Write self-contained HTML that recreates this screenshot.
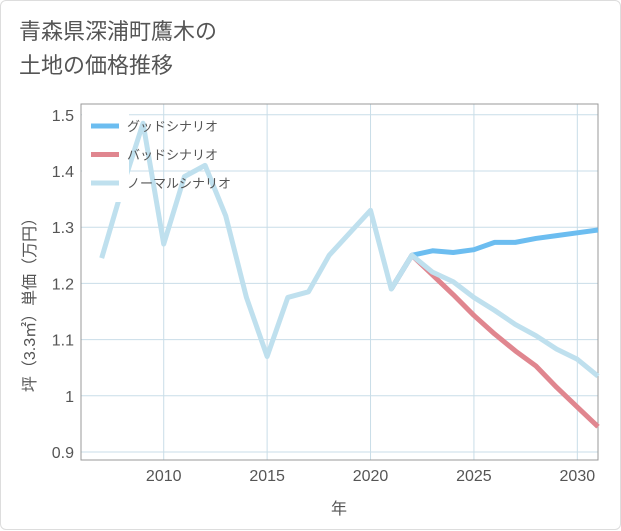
<!DOCTYPE html>
<html><head><meta charset="utf-8">
<style>
body{margin:0;background:#fff;font-family:"Liberation Sans","Noto Sans CJK JP",sans-serif;}
#wrap{position:relative;width:619px;height:528px;border:1px solid #ddd;border-radius:6px;background:#fff;}
#title{position:absolute;left:18px;top:14px;font-size:22px;line-height:34px;color:#555;}
svg{position:absolute;left:0;top:0;}
</style></head><body>
<div id="wrap">
<div id="title">青森県深浦町鷹木の<br>土地の価格推移</div>
<svg id="chart" width="621" height="530"></svg>
</div>
<script>
const years=[2007,2008,2009,2010,2011,2012,2013,2014,2015,2016,2017,2018,2019,2020,2021,2022,2023,2024,2025,2026,2027,2028,2029,2030,2031];
const normalVals=[1.245,1.37,1.485,1.27,1.39,1.41,1.32,1.175,1.07,1.175,1.185,1.25,1.29,1.33,1.19,1.25,1.22,1.203,1.175,1.152,1.127,1.107,1.083,1.065,1.035];
const futureYears=[2021,2022,2023,2024,2025,2026,2027,2028,2029,2030,2031];
const goodVals=[1.19,1.25,1.258,1.255,1.26,1.273,1.273,1.28,1.285,1.29,1.295];
const badVals=[1.19,1.25,1.215,1.18,1.143,1.11,1.08,1.053,1.015,0.98,0.945];
const xTicks=[2010,2015,2020,2025,2030];
const yTicks=[0.9,1,1.1,1.2,1.3,1.4,1.5];
const legendLabels=["グッドシナリオ","バッドシナリオ","ノーマルシナリオ"];
const legendColors=["#6cbdf0","#e0868f","#bfe0ee"];

const L=80,R=597,T=103,B=459;
const x=v=>L+(v-2006)/(2031-2006)*(R-L);
const y=v=>451-(v-0.9)/0.1*56.2;
const svg=document.getElementById('chart');
const NS='http://www.w3.org/2000/svg';
function mk(t,a){const e=document.createElementNS(NS,t);for(const k in a)e.setAttribute(k,a[k]);svg.appendChild(e);return e;}

xTicks.forEach(v=>{
  const l=mk('line',{x1:x(v),x2:x(v),y1:T,y2:B,stroke:'#c9dde8','stroke-width':1});
  
  
  const t=mk('text',{x:x(v),y:480,'text-anchor':'middle','font-size':16,fill:'#555'});
  t.textContent=v;
  
  
});
yTicks.forEach(v=>{
  const l=mk('line',{x1:L,x2:R,y1:y(v),y2:y(v),stroke:'#c9dde8','stroke-width':1});
  
  
  const t=mk('text',{x:73,y:y(v)+6,'text-anchor':'end','font-size':16,fill:'#555'});
  t.textContent=v;
  
  
});
const ax=mk('rect',{x:L,y:T,width:R-L,height:B-T,fill:'none',stroke:'#999','stroke-width':1});



function series(xs,vs,color,name){
  const p=mk('polyline',{points:xs.map((yr,i)=>x(yr)+','+y(vs[i])).join(' '),fill:'none',stroke:color,'stroke-width':5,'stroke-linejoin':'round'});
  
  
}
series(futureYears,badVals,legendColors[1],'bad-scenario-line');
series(futureYears,goodVals,legendColors[0],'good-scenario-line');
series(years,normalVals,legendColors[2],'normal-scenario-line');

const lb=mk('rect',{x:81,y:111,width:47,height:90,fill:'#fff'});


legendLabels.forEach((s,i)=>{
  const yy=125+i*28.5;
  const l=mk('line',{x1:90,x2:118,y1:yy,y2:yy,stroke:legendColors[i],'stroke-width':5});
  
  
  const t=mk('text',{x:126,y:yy+5,'font-size':13,fill:'#555'});
  t.textContent=s;
  
  
});
const xt=mk('text',{x:338,y:513,'text-anchor':'middle','font-size':16,fill:'#555'});
xt.textContent='年';


const yt=mk('text',{x:0,y:0,'text-anchor':'middle','font-size':16,fill:'#555',transform:'translate(34,300) rotate(-90)'});
yt.textContent='坪（3.3㎡）単価（万円）';


</script>
</body></html>
